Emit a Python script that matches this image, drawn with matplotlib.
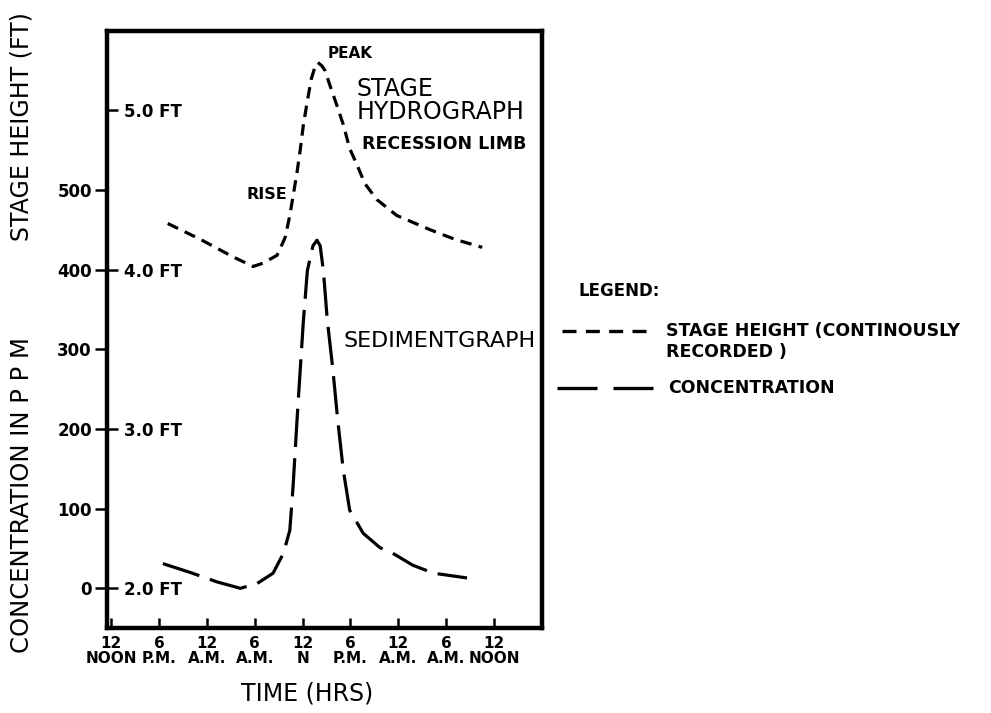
import matplotlib

matplotlib.use("Agg")

import matplotlib.pyplot as plt
from matplotlib.lines import Line2D

# hours after the first noon on the time axis
TICK_HOURS = [0, 6, 12, 18, 24, 30, 36, 42, 48]
TICK_LABELS = ["12\nNOON", "6\nP.M.", "12\nA.M.", "6\nA.M.", "12\nN",
               "6\nP.M.", "12\nA.M.", "6\nA.M.", "12\nNOON"]

PPM_TICKS = [0, 100, 200, 300, 400, 500]
STAGE_TICKS = [2.0, 3.0, 4.0, 5.0]

# stage height (ft), continuously recorded
stage_hours = [7.1, 11.2, 15.3, 17.8, 19.0, 20.8, 21.8, 22.4, 22.8, 23.3, 23.7,
               24.1, 24.6, 25.1, 25.6, 25.9, 26.4, 26.8, 27.4, 28.3, 29.1,
               29.9, 30.8, 31.8, 33.3, 35.8, 40.0, 43.1, 46.5]
stage_ft = [4.29, 4.19, 4.08, 4.02, 4.04, 4.09, 4.20, 4.34, 4.46, 4.61, 4.75,
            4.91, 5.06, 5.20, 5.28, 5.30, 5.28, 5.25, 5.16, 5.03, 4.91,
            4.76, 4.66, 4.54, 4.44, 4.34, 4.25, 4.19, 4.14]

# suspended sediment concentration (ppm)
conc_hours = [6.5, 9.9, 13.3, 16.2, 18.3, 20.3, 21.6, 22.4, 22.8, 23.3, 23.7,
              24.1, 24.6, 25.3, 25.8, 26.2, 26.6, 27.1, 27.8, 28.4, 29.1,
              29.9, 31.6, 33.7, 35.3, 37.8, 40.4, 44.6]
conc_ppm = [31, 20, 8, 0, 6, 19, 44, 73, 127, 211, 274,
            336, 399, 430, 437, 430, 399, 336, 274, 211, 148,
            98, 69, 51, 44, 29, 19, 13]


def ft_to_ppm(ft):
    return (ft - 2.0) * 200.0


def ppm_to_ft(ppm):
    return 2.0 + ppm / 200.0


def fig_xy(px, py):
    # pixel position on the 991x713 canvas -> figure fraction
    return px / 991, 1 - py / 713


plt.rcParams["font.family"] = "DejaVu Sans"

fig = plt.figure(figsize=(9.91, 7.13), dpi=100)
ax = fig.add_axes([0.108, 0.119, 0.439, 0.838])

ax.plot(stage_hours, [ft_to_ppm(v) for v in stage_ft], color="black",
        linewidth=2.3, dashes=(3.6, 2.3), dash_capstyle="butt")
ax.plot(conc_hours, conc_ppm, color="black", linewidth=2.3,
        dashes=(12, 3.5), dash_capstyle="butt")

ax.set_xlim(-0.5, 54.0)
ax.set_ylim(-50, 700)

for spine in ax.spines.values():
    spine.set_linewidth(3.2)

ax.set_xticks(TICK_HOURS)
ax.set_xticklabels(TICK_LABELS, fontsize=11, fontweight="bold", linespacing=1.0)
ax.tick_params(axis="x", direction="in", length=7, width=1.8, pad=6)

ax.set_yticks(PPM_TICKS)
ax.set_yticklabels([str(v) for v in PPM_TICKS], fontsize=12, fontweight="bold")
ax.tick_params(axis="y", direction="out", length=9, width=1.8, pad=2)

stage_axis = ax.secondary_yaxis("left", functions=(ppm_to_ft, ft_to_ppm))
stage_axis.spines["left"].set_visible(False)
stage_axis.set_yticks(STAGE_TICKS)
stage_axis.set_yticklabels([f"{v:.1f} FT" for v in STAGE_TICKS],
                           fontsize=12, fontweight="bold")
stage_axis.tick_params(axis="y", direction="in", length=8, width=1.8, pad=-12)
for label in stage_axis.get_yticklabels():
    label.set_horizontalalignment("left")

# curve annotations
ax.text(27.1, 671, "PEAK", fontsize=11, fontweight="bold", va="center")
ax.text(30.8, 612, "STAGE\nHYDROGRAPH", fontsize=17, va="center",
        linespacing=0.95)
ax.text(31.4, 558, "RECESSION LIMB", fontsize=12.5, fontweight="bold",
        va="center")
ax.text(22.1, 494, "RISE", fontsize=11.5, fontweight="bold", va="center",
        ha="right")
ax.text(29.1, 310, "SEDIMENTGRAPH", fontsize=16, va="center")

fig.text(*fig_xy(307, 693), "TIME (HRS)", fontsize=17, ha="center", va="center")
fig.text(*fig_xy(22, 127), "STAGE HEIGHT (FT)", fontsize=17,
         rotation=90, ha="center", va="center")
fig.text(*fig_xy(22, 495), "CONCENTRATION IN P P M", fontsize=17.5,
         rotation=90, ha="center", va="center")

# legend block to the right of the plot
fig.text(*fig_xy(578, 291), "LEGEND:", fontsize=12, fontweight="bold",
         va="center")
(x0, y0), (x1, _) = fig_xy(562, 331), fig_xy(646, 331)
fig.add_artist(Line2D([x0, x1], [y0, y0], color="black", linewidth=2.4,
                      dashes=(4.2, 2.8), dash_capstyle="butt"))
fig.text(*fig_xy(666, 331), "STAGE HEIGHT (CONTINOUSLY", fontsize=12.5,
         fontweight="bold", va="center")
fig.text(*fig_xy(666, 352), "RECORDED )", fontsize=12.5,
         fontweight="bold", va="center")
(x0, y0), (x1, _) = fig_xy(557, 388), fig_xy(653, 388)
fig.add_artist(Line2D([x0, x1], [y0, y0], color="black", linewidth=2.4,
                      dashes=(12, 4.8), dash_capstyle="butt"))
fig.text(*fig_xy(668, 388), "CONCENTRATION", fontsize=12.5,
         fontweight="bold", va="center")

fig.savefig("out.png", dpi=100)
plt.close(fig)
